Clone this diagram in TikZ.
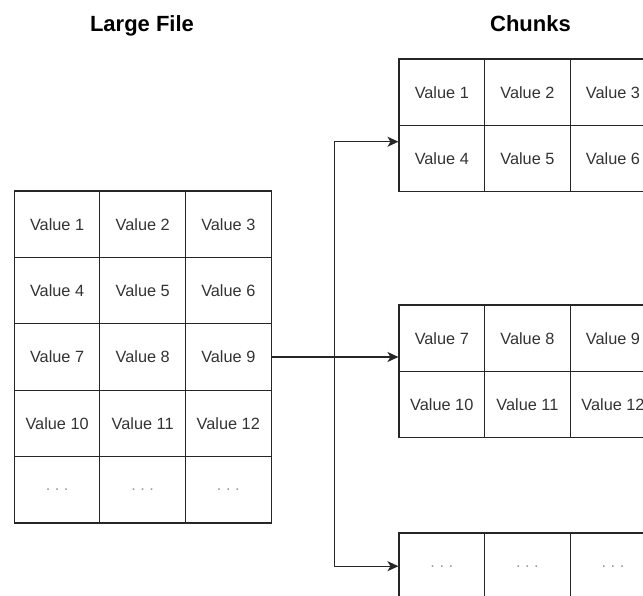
\documentclass[tikz,border=0pt]{standalone}
\usepackage{fontspec}
\setmainfont{Liberation Sans}
\usetikzlibrary{arrows.meta,calc}
\definecolor{linegray}{HTML}{262626}
\definecolor{txtgray}{HTML}{333333}
\definecolor{dotgray}{HTML}{9A9A9A}
\newcommand\dotsx{\textcolor{dotgray}{.\ .\ .}}
\newcommand\celltable[4]{%
  \foreach \t [count=\k from 0] in {#4} {%
    \pgfmathtruncatemacro\r{floor(\k/3)+1}%
    \pgfmathtruncatemacro\c{mod(\k,3)+1}%
    \node[cell] (#1-\r-\c) at ({#2+(\c-0.5)*85.6},{#3+(\r-0.5)*66.4}) {\t};
  }%
}
\begin{document}
\begin{tikzpicture}[x=1pt,y=-1pt,
  cell/.style={draw=linegray, line width=1.1pt, rectangle, minimum width=85.6pt,
    minimum height=66.4pt, inner sep=0pt, text=txtgray,
    font=\fontsize{16.3}{19}\selectfont},
  title/.style={font=\fontsize{22}{26}\selectfont\bfseries, text=black, anchor=base, inner sep=0pt},
  conn/.style={draw=linegray, line width=1.4pt},
  arr/.style={conn, -{Stealth[length=11pt,width=10pt,inset=3pt]}}]
\useasboundingbox (0,0) rectangle (643,596);
\clip (0,0) rectangle (643,596);
\node[title] (tl) at (142,31.5) {Large File};
\node[title] (tc) at (530.5,31.5) {Chunks};
\celltable{L}{14.3}{191}{Value 1,Value 2,Value 3,Value 4,Value 5,Value 6,Value 7,Value 8,Value 9,Value 10,Value 11,Value 12,\dotsx,\dotsx,\dotsx}
\celltable{A}{399}{59}{Value 1,Value 2,Value 3,Value 4,Value 5,Value 6}
\celltable{B}{399}{305}{Value 7,Value 8,Value 9,Value 10,Value 11,Value 12}
\celltable{C}{399}{533}{\dotsx,\dotsx,\dotsx}
\coordinate (j) at ($(L-3-3.east)+(63,0)$);
\draw[conn, line width=1.9pt] (L-3-3.east) -- (j);
\draw[arr] (j) -- (j -| B-1-1.west);
\draw[arr] (j) |- ($(A-2-1.north west)!0.25!(A-2-1.south west)$);
\draw[arr] (j) |- (C-1-1.west);
\end{tikzpicture}
\end{document}
